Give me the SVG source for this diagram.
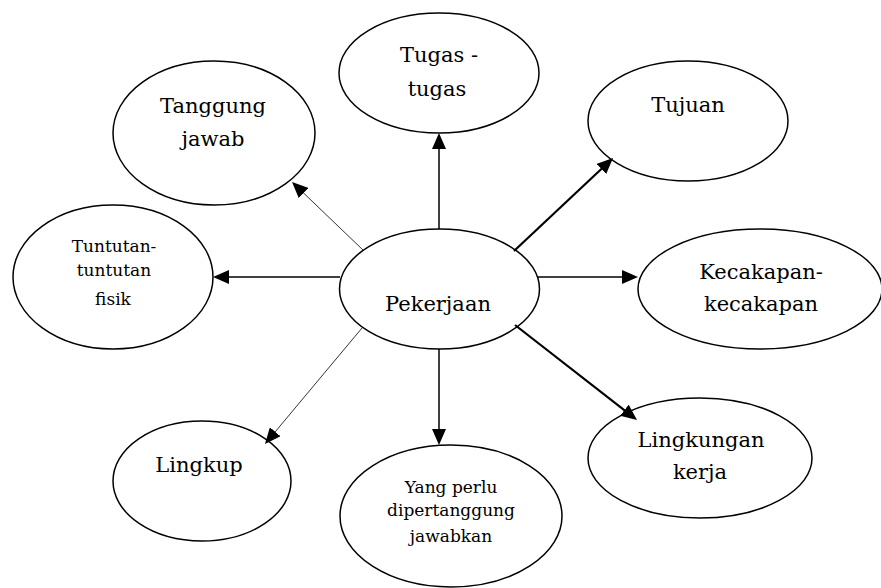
<svg xmlns="http://www.w3.org/2000/svg" width="881" height="588" viewBox="0 0 881 588">
<style>
.node ellipse{fill:#fff;stroke:#000;stroke-width:1.5}
.node text{font-family:'DejaVu Serif',serif;fill:#000;text-anchor:middle}
.big{font-size:21px}
.small{font-size:17px}
.conn line{stroke:#000;fill:none}
.n{stroke-width:1.5}
.t{stroke-width:0.8}
.k{stroke-width:2.2}
</style>
<defs>
<marker id="ah" markerUnits="userSpaceOnUse" markerWidth="16" markerHeight="14" refX="8" refY="7" orient="auto">
<path d="M0,0 L16,7 L0,14 z" fill="#000"/>
</marker>
</defs>
<rect width="881" height="588" fill="#fff"/>
<g id="tugas" class="node">
<ellipse cx="439" cy="73" rx="100" ry="60"/>
<text class="big" x="439" y="62">Tugas -</text>
<text class="big" x="437" y="96">tugas</text>
</g>
<g id="tanggung-jawab" class="node">
<ellipse cx="214" cy="133" rx="101" ry="72"/>
<text class="big" x="213" y="113">Tanggung</text>
<text class="big" x="213" y="146">jawab</text>
</g>
<g id="tujuan" class="node">
<ellipse cx="688" cy="121" rx="100" ry="60"/>
<text class="big" x="688" y="112">Tujuan</text>
</g>
<g id="tuntutan" class="node">
<ellipse cx="113" cy="277" rx="100" ry="72"/>
<text class="small" x="114" y="252">Tuntutan-</text>
<text class="small" x="114" y="276">tuntutan</text>
<text class="small" x="113" y="305">fisik</text>
</g>
<g id="pekerjaan" class="node">
<ellipse cx="439.5" cy="289" rx="100" ry="60"/>
<text class="big" x="438" y="311">Pekerjaan</text>
</g>
<g id="kecakapan" class="node">
<ellipse cx="760" cy="289" rx="122" ry="60"/>
<text class="big" x="761" y="279">Kecakapan-</text>
<text class="big" x="761" y="311">kecakapan</text>
</g>
<g id="lingkup" class="node">
<ellipse cx="202" cy="481" rx="89" ry="60"/>
<text class="big" x="199" y="472">Lingkup</text>
</g>
<g id="yang-perlu" class="node">
<ellipse cx="451" cy="516" rx="111" ry="71"/>
<text class="small" x="451" y="493">Yang perlu</text>
<text class="small" x="451" y="516">dipertanggung</text>
<text class="small" x="451" y="542">jawabkan</text>
</g>
<g id="lingkungan" class="node">
<ellipse cx="700" cy="458" rx="112" ry="60"/>
<text class="big" x="701" y="447">Lingkungan</text>
<text class="big" x="700" y="479">kerja</text>
</g>
<g id="connectors" class="conn">
<line class="n" x1="439" y1="229" x2="439" y2="141" marker-end="url(#ah)"/>
<line class="t" x1="363" y1="250" x2="297.8" y2="187.5" marker-end="url(#ah)"/>
<line class="k" x1="514" y1="251" x2="607.2" y2="163.5" marker-end="url(#ah)"/>
<line class="n" x1="340" y1="277" x2="221" y2="277" marker-end="url(#ah)"/>
<line class="n" x1="538" y1="277" x2="630" y2="277" marker-end="url(#ah)"/>
<line class="k" x1="515" y1="325" x2="630.7" y2="415.1" marker-end="url(#ah)"/>
<line class="n" x1="439" y1="349" x2="439" y2="437" marker-end="url(#ah)"/>
<line class="t" x1="362" y1="328" x2="270.1" y2="437.9" marker-end="url(#ah)"/>
</g>
</svg>
